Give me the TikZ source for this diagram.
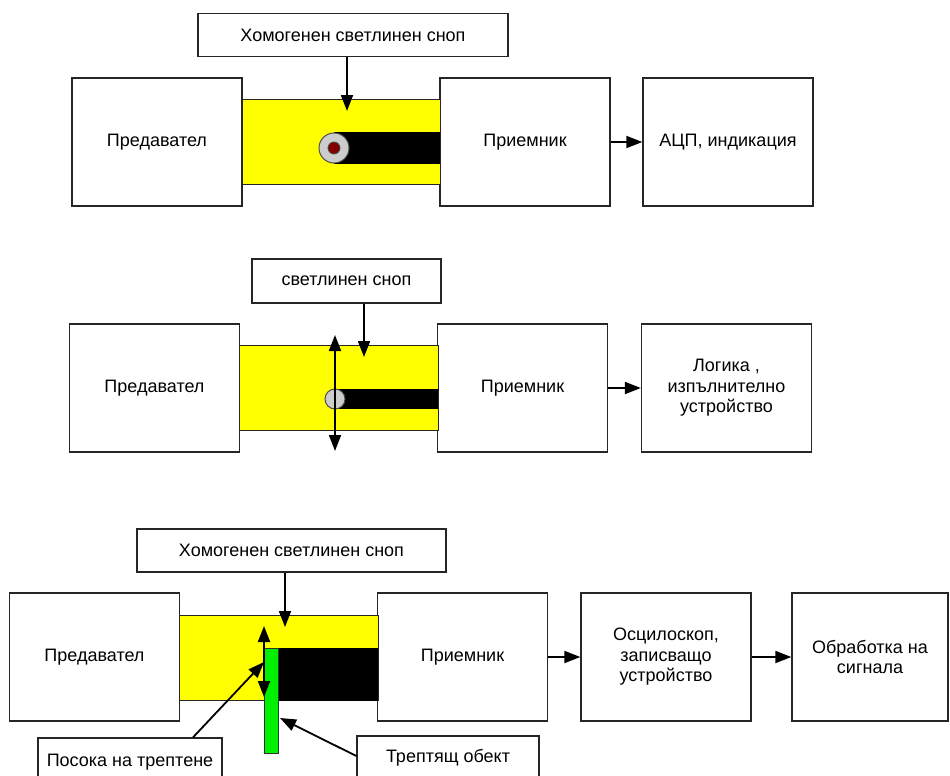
\documentclass[tikz,border=0pt]{standalone}
\usepackage{fontspec}
\setmainfont{Liberation Sans}
\usetikzlibrary{arrows.meta}

\begin{document}
\begin{tikzpicture}[x=1pt, y=-1pt,
    every node/.style={font=\fontsize{18}{20.5}\selectfont},
    block/.style={draw=black!85, line width=1.3pt, fill=white, minimum width=170pt, minimum height=128pt, align=center, inner sep=2pt},
    beamlabel/.style={draw=black!85, line width=1.3pt, fill=white, minimum height=43pt, inner sep=2pt},
    signal/.style={-{Triangle[length=16pt,width=12pt]}, line width=1.8pt},
    swing/.style={{Triangle[length=16pt,width=12pt]}-{Triangle[length=16pt,width=12pt]}, line width=1.8pt}]

    % Define custom colors
    \definecolor{beamyellow}{HTML}{FFFF00}
    \definecolor{rodgray}{HTML}{CCCCCC}
    \definecolor{dotred}{HTML}{800000}
    \definecolor{objgreen}{HTML}{00F000}

    \clip (0,0) rectangle (950,776);

    % ---------------- Diagram 1 ----------------
    \node[beamlabel, minimum width=310pt] (beam1) at (353,35) {Хомогенен светлинен сноп};
    \node[block] (tx1) at (157,142) {Предавател};
    \node[block] (rx1) at (525,142) {Приемник};
    \node[block] (adc1) at (728,142) {АЦП, индикация};

    % light beam and shadow of the rod
    \draw[fill=beamyellow, draw=black!85, line width=1pt] (242,99) rectangle (440,184);
    \fill[black] (334,132) rectangle (440,164);
    \draw[fill=rodgray, draw=black!70, line width=1pt] (334,148) circle[radius=15pt];
    \draw[fill=dotred, draw=black!70, line width=0.8pt] (334,148) circle[radius=6pt];

    \coordinate (hit1) at (347,111);
    \draw[signal] (beam1.south -| hit1) -- (hit1);
    \draw[signal] (rx1.east) -- (adc1.west);

    % ---------------- Diagram 2 ----------------
    \node[beamlabel, minimum width=189pt, minimum height=44pt] (beam2) at (346.5,281) {светлинен сноп};
    \node[block] (tx2) at (154.5,388) {Предавател};
    \node[block] (rx2) at (522.5,388) {Приемник};
    \node[block] (logic2) at (726.5,388) {Логика ,\\изпълнително\\устройство};

    \draw[fill=beamyellow, draw=black!85, line width=1pt] (239,345) rectangle (438,430);
    \fill[black] (335,389) rectangle (438,409);
    \draw[fill=rodgray, draw=black!70, line width=1pt] (335,399) circle[radius=10pt];

    \coordinate (hit2) at (364,357);
    \coordinate (up2) at (335,335);
    \coordinate (down2) at (335,451);
    \draw[signal] (beam2.south -| hit2) -- (hit2);
    \draw[swing] (up2) -- (down2);
    \draw[signal] (rx2.east) -- (logic2.west);

    % ---------------- Diagram 3 ----------------
    \node[beamlabel, minimum width=309pt] (beam3) at (291.5,550.5) {Хомогенен светлинен сноп};
    \node[block] (tx3) at (94.5,657) {Предавател};
    \node[block] (rx3) at (462.5,657) {Приемник};
    \node[block] (scope3) at (666,657) {Осцилоскоп,\\записващо\\устройство};
    \node[block, minimum width=156pt] (proc3) at (870,657) {Обработка на\\сигнала};

    \draw[fill=beamyellow, draw=black!85, line width=1pt] (179,615) rectangle (378,700);
    \fill[black] (278,648) rectangle (378,701);
    \draw[fill=objgreen, draw=black!80, line width=1pt] (264,648) rectangle (278,753);

    \coordinate (hit3) at (285,627);
    \coordinate (up3) at (264,626);
    \coordinate (down3) at (264,697);
    \draw[signal] (beam3.south -| hit3) -- (hit3);
    \draw[swing] (up3) -- (down3);
    \draw[signal] (rx3.east) -- (scope3.west);
    \draw[signal] (scope3.east) -- (proc3.west);

    % Labels below
    \node[beamlabel, minimum width=184pt, minimum height=48pt] (dir3) at (130,762) {Посока на трептене};
    \node[beamlabel, minimum width=182pt, minimum height=44pt] (obj3) at (448,758) {Трептящ обект};

    \coordinate (dirx) at (193,0);
    \coordinate (dirtip) at (264,662);
    \coordinate (objy) at (0,756);
    \coordinate (objtip) at (280,718);
    \draw[signal] (dir3.north -| dirx) -- (dirtip);
    \draw[signal] (obj3.west |- objy) -- (objtip);

\end{tikzpicture}
\end{document}
